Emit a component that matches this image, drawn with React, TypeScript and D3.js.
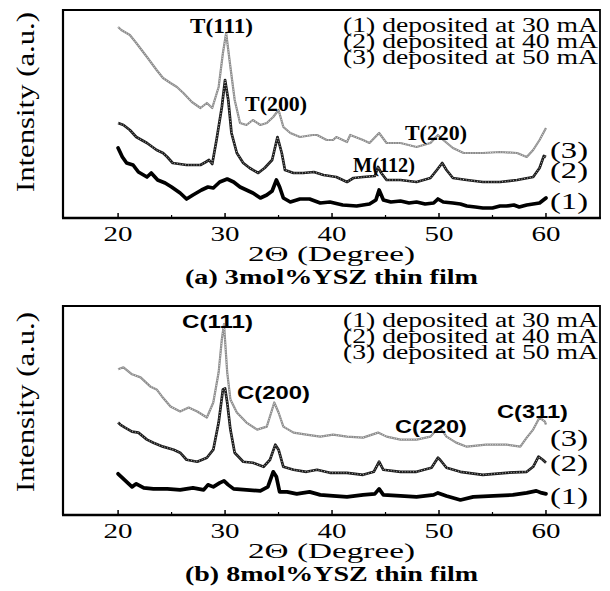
import React from 'react';
import * as d3 from 'd3';

// 2-theta ticks
const xTicks = [20, 30, 40, 50, 60];
const xMinor = [25, 35, 45, 55];

const legendLines = ['(1) deposited at 30 mA', '(2) deposited at 40 mA', '(3) deposited at 50 mA'];
const seriesTags = ['(1)', '(2)', '(3)'];

// panel (a) 3mol% YSZ, [2theta, intensity a.u.]
const a30 = [[20.0,70],[20.4,61],[20.8,55],[21.4,53],[21.9,46],[22.7,41],[23.1,45],[23.7,38],[24.4,35],[25.0,31],[25.8,25],[26.4,19],[27.0,23],[27.8,28],[28.4,31],[28.9,30],[29.5,36],[30.2,39],[30.8,36],[31.4,31],[32.0,28],[32.6,25],[33.3,20],[33.9,23],[34.4,27],[34.8,38],[35.1,31],[35.45,20],[36.1,16],[37.0,19],[37.9,19],[38.9,15],[39.8,16],[41.0,13],[42.3,12],[43.5,14],[44.1,18],[44.4,28],[44.8,18],[45.5,16],[46.4,17],[47.2,15],[47.9,16],[48.7,14],[49.5,15],[49.9,19],[50.4,16],[51.3,15],[52.0,14],[52.6,12],[53.4,11],[54.1,10],[55.0,10],[55.7,12],[56.3,12],[57.0,13],[57.5,11],[58.2,13],[58.8,14],[59.4,15],[60.0,20]];
const a40 = [[20.0,95],[20.5,93],[21.1,88],[21.7,81],[22.7,75],[23.6,68],[24.2,65],[24.6,61],[25.1,55],[26.4,53],[27.7,53],[28.2,56],[28.5,58],[28.8,54],[29.2,78],[29.7,111],[30.0,138],[30.3,118],[30.6,85],[31.1,65],[31.7,55],[32.3,50],[33.1,45],[33.7,50],[34.4,58],[34.9,81],[35.3,65],[35.6,48],[36.4,45],[37.3,45],[38.3,46],[39.2,43],[40.4,41],[41.4,36],[42.0,40],[42.9,41],[44.0,42],[44.3,51],[44.6,45],[45.1,38],[46.4,38],[47.9,36],[49.2,40],[49.8,48],[50.3,55],[50.7,48],[51.3,40],[52.6,38],[54.1,36],[55.7,36],[57.3,38],[58.8,41],[59.4,50],[59.8,62],[60.0,61]];
const a50 = [[20.0,191],[20.3,188],[21.1,183],[21.7,175],[22.7,161],[23.6,148],[24.2,140],[24.9,135],[25.5,131],[26.1,125],[26.9,116],[27.7,110],[28.3,115],[28.8,110],[29.4,131],[29.8,165],[30.1,185],[30.5,151],[30.9,118],[31.4,95],[32.0,93],[32.6,98],[33.3,93],[33.9,95],[34.5,101],[35.0,108],[35.45,91],[36.1,85],[37.0,81],[38.2,83],[38.6,83],[39.5,78],[40.1,78],[40.4,81],[41.4,76],[41.7,83],[42.9,78],[43.5,75],[44.4,85],[45.1,75],[46.4,75],[47.9,71],[49.2,75],[49.9,83],[50.4,78],[51.3,70],[52.3,65],[54.1,65],[55.7,66],[57.3,65],[58.2,61],[58.8,68],[59.4,78],[60.0,90]];

// panel (b) 8mol% YSZ
const b30 = [[20.0,41],[20.3,38],[20.8,33],[21.3,28],[21.7,31],[22.4,27],[23.3,26],[24.6,26],[25.8,25],[27.0,27],[28.0,25],[28.4,30],[28.9,28],[29.5,32],[29.9,34],[30.3,30],[30.8,26],[32.0,25],[33.3,24],[34.0,28],[34.5,43],[34.8,38],[35.1,23],[35.8,23],[36.7,21],[37.9,23],[38.9,20],[40.1,19],[41.4,18],[42.9,20],[44.0,21],[44.4,26],[44.8,20],[46.4,19],[47.9,18],[49.5,20],[49.9,22],[50.7,19],[52.0,15],[53.2,18],[55.1,19],[56.9,20],[58.2,22],[59.1,24],[59.6,22],[60.0,21]];
const b40 = [[20.0,92],[20.2,90],[20.65,87],[21.3,83],[21.9,82],[22.7,75],[23.3,72],[24.2,68],[25.2,65],[25.8,62],[26.4,55],[27.4,53],[28.3,57],[28.9,65],[29.4,92],[29.8,125],[30.0,126],[30.2,112],[30.5,85],[30.9,62],[31.7,53],[32.6,52],[33.6,48],[34.2,55],[34.7,70],[35.0,65],[35.45,48],[36.4,45],[37.6,43],[38.6,45],[39.8,42],[41.4,42],[42.9,40],[43.9,43],[44.4,53],[44.8,45],[46.4,43],[47.9,43],[49.3,47],[49.9,57],[50.1,55],[50.7,47],[52.0,43],[54.1,40],[56.3,42],[58.2,43],[58.8,48],[59.3,58],[59.7,55],[60.0,52]];
const b50 = [[20.0,145],[20.5,147],[21.3,140],[22.1,137],[23.0,128],[23.6,125],[24.1,118],[24.9,108],[25.8,103],[26.6,107],[27.4,103],[28.3,97],[28.9,112],[29.4,142],[29.7,175],[29.9,190],[30.2,142],[30.5,115],[31.1,102],[32.0,92],[33.0,85],[33.9,88],[34.4,105],[34.6,112],[35.0,102],[35.45,88],[36.4,82],[37.6,80],[38.9,78],[40.1,80],[41.4,78],[42.9,77],[44.3,82],[45.1,78],[46.4,75],[47.9,75],[49.2,78],[49.8,85],[50.1,87],[50.7,78],[51.6,72],[52.6,68],[54.4,70],[56.3,70],[57.6,68],[58.2,77],[58.8,85],[59.4,97],[59.9,93],[60.0,90]];

// peak labels: [text, 2theta, intensity]
const peaksA = [['T(111)', 29.67, 185], ['T(200)', 34.77, 107], ['M(112)', 44.86, 46], ['T(220)', 49.72, 78]];
const peaksB = [['C(111)', 29.3, 186], ['C(200)', 34.53, 115], ['C(220)', 49.25, 82], ['C(311)', 58.74, 97]];

const serif = '"Liberation Serif", "Times New Roman", serif';
const sans = '"Liberation Sans", Arial, sans-serif';

function Txt({ cx, y, w, size, bold = false, family = serif, children }: any) {
  return (
    <text x={cx - w / 2} y={y} fontSize={size} fontFamily={family} fontWeight={bold ? 'bold' : 'normal'}
      textLength={w} lengthAdjust="spacingAndGlyphs" fill="#000">
      {children}
    </text>
  );
}

function Panel({ top, bottom, series, peaks, peakFont, peakSize, peakW, tagY, legendY, yLabelY, title }: any) {
  const left = 63, right = 600;
  const x = d3.scaleLinear().domain([14.85, 65.05]).range([left, right]);
  const y = d3.scaleLinear().domain([0, 208]).range([bottom, top]);
  const line = d3.line<number[]>().x(d => x(d[0])).y(d => y(d[1]));

  return (
    <g>
      {/* curves: (1) solid thick, (2) beaded dark, (3) light dotted */}
      <path d={line(series[2])!} fill="none" stroke="#8c8c8c" strokeWidth={2.2} strokeLinejoin="round" />
      <path d={line(series[2])!} fill="none" stroke="#fff" strokeWidth={0.8} strokeDasharray="0.8 1.7" />
      <path d={line(series[1])!} fill="none" stroke="#1c1c1c" strokeWidth={2.7} strokeLinejoin="round" />
      <path d={line(series[1])!} fill="none" stroke="#fff" strokeWidth={0.8} strokeDasharray="0.8 2" />
      <path d={line(series[0])!} fill="none" stroke="#000" strokeWidth={3.7} strokeLinejoin="round" strokeLinecap="round" />

      {/* frame */}
      <line x1={left} x2={right} y1={top} y2={top} stroke="#000" strokeWidth={2} />
      <line x1={left} x2={left} y1={top - 1} y2={bottom} stroke="#000" strokeWidth={2.2} />
      <line x1={right} x2={right} y1={top - 1} y2={bottom} stroke="#000" strokeWidth={1.8} />
      <line x1={left - 1} x2={right + 1} y1={bottom} y2={bottom} stroke="#000" strokeWidth={2.6} />
      {xTicks.map(t => (
        <line key={t} x1={x(t)} x2={x(t)} y1={bottom} y2={bottom - 5} stroke="#000" strokeWidth={1.5} />
      ))}
      {xMinor.map(t => (
        <line key={t} x1={x(t)} x2={x(t)} y1={bottom} y2={bottom - 3} stroke="#000" strokeWidth={1.2} />
      ))}
      {xTicks.map(t => (
        <Txt key={t} cx={x(t)} y={bottom + 23} w={29} size={20}>{t}</Txt>
      ))}

      <Txt cx={331.5} y={bottom + 43} w={167} size={22}>2Θ (Degree)</Txt>
      <Txt cx={331.5} y={bottom + 66} w={293} size={20} bold>{title}</Txt>

      <text transform={`translate(34,${yLabelY}) rotate(-90)`} x={-90} y={0} fontSize={26} fontFamily={serif}
        textLength={180} lengthAdjust="spacingAndGlyphs">Intensity (a.u.)</text>

      {legendLines.map((s, i) => (
        <text key={s} x={343} y={legendY + i * 16} fontSize={20} fontFamily={serif}
          textLength={255} lengthAdjust="spacingAndGlyphs">{s}</text>
      ))}
      {seriesTags.map((s, i) => (
        <text key={s} x={550} y={tagY[i]} fontSize={23} fontFamily={serif}
          textLength={38} lengthAdjust="spacingAndGlyphs">{s}</text>
      ))}
      {peaks.map((p: any, i: number) => (
        <Txt key={p[0]} cx={x(p[1])} y={y(p[2])} w={peakW[i]} size={peakSize} bold family={peakFont}>{p[0]}</Txt>
      ))}
    </g>
  );
}

export default function App() {
  return (
    <svg width={610} height={591} style={{ position: 'absolute', left: 0, top: 0, background: '#fff' }}>
      <rect width={610} height={591} fill="#fff" />
      <Panel top={10} bottom={218} series={[a30, a40, a50]} peaks={peaksA} peakFont={serif} peakSize={20}
        peakW={[63, 62, 62, 62]} tagY={[209, 178, 158]} legendY={32} yLabelY={102}
        title="(a) 3mol%YSZ thin film" />
      <Panel top={306} bottom={515} series={[b30, b40, b50]} peaks={peaksB} peakFont={sans} peakSize={18}
        peakW={[71, 73, 72, 71]} tagY={[504, 471, 446]} legendY={327} yLabelY={402}
        title="(b) 8mol%YSZ thin film" />
    </svg>
  );
}
